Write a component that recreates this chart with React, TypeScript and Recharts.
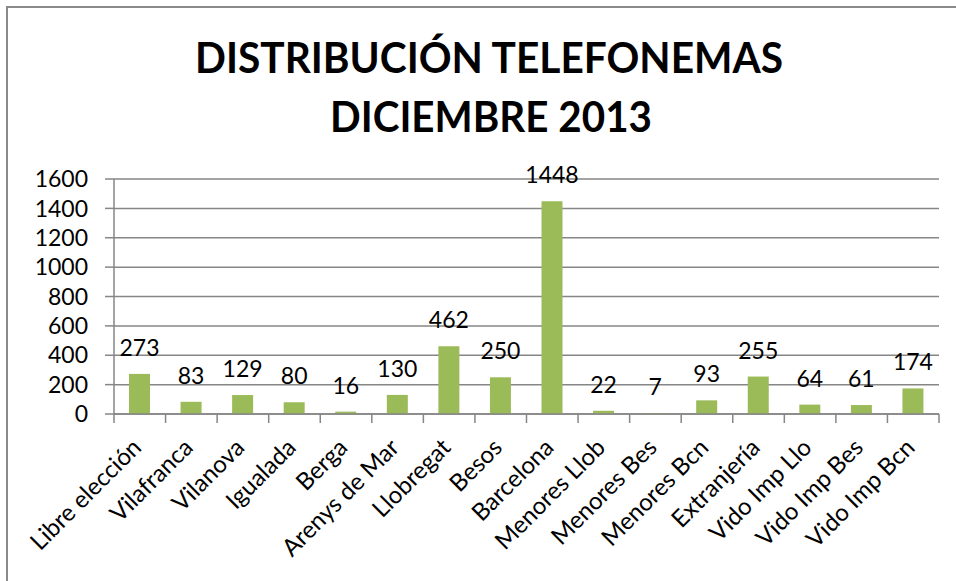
import { BarChart, Bar, XAxis, YAxis, CartesianGrid, LabelList } from 'recharts'

const CATEGORIES = [
  'Libre elección',
  'Vilafranca',
  'Vilanova',
  'Igualada',
  'Berga',
  'Arenys de Mar',
  'Llobregat',
  'Besos',
  'Barcelona',
  'Menores Llob',
  'Menores Bes',
  'Menores Bcn',
  'Extranjería',
  'Vido Imp Llo',
  'Vido Imp Bes',
  'Vido Imp Bcn',
]
const VALUES = [273, 83, 129, 80, 16, 130, 462, 250, 1448, 22, 7, 93, 255, 64, 61, 174]
const Y_TICKS = [0, 200, 400, 600, 800, 1000, 1200, 1400, 1600]
const TITLE_LINES = ['DISTRIBUCIÓN TELEFONEMAS', 'DICIEMBRE 2013']

const data = CATEGORIES.map((name, i) => ({ name, value: VALUES[i] }))

const WIDTH = 956
const HEIGHT = 581
const MARGIN = { top: 179, right: 17, bottom: 0, left: 0 }
const Y_AXIS_WIDTH = 114
const X_AXIS_HEIGHT = 167
const BAND = (WIDTH - MARGIN.right - Y_AXIS_WIDTH) / CATEGORIES.length
const AXIS = '#868686'
const GREEN = '#9BBB59'
const FONT = 'Lato, "Open Sans", sans-serif'

function CategoryTick(props: any) {
  const { x, y, payload, index } = props
  const half = BAND / 2
  return (
    <g>
      <line x1={x - half} x2={x - half} y1={y} y2={y + 9} stroke={AXIS} strokeWidth={1.5} />
      {index === CATEGORIES.length - 1 && (
        <line x1={x + half} x2={x + half} y1={y} y2={y + 9} stroke={AXIS} strokeWidth={1.5} />
      )}
      <text
        transform={`translate(${x + 3},${y + 35}) rotate(-45)`}
        textAnchor="end"
        fontSize={24}
        fill="#000"
      >
        {payload.value}
      </text>
    </g>
  )
}

export default function App() {
  return (
    <div
      style={{
        position: 'absolute',
        left: 0,
        top: 0,
        width: WIDTH,
        height: HEIGHT,
        background: '#fff',
        fontFamily: FONT,
      }}
    >
      <BarChart width={WIDTH} height={HEIGHT} data={data} margin={MARGIN}>
        <CartesianGrid vertical={false} stroke={AXIS} strokeWidth={1.5} />
        <YAxis
          width={Y_AXIS_WIDTH}
          domain={[0, 1600]}
          ticks={Y_TICKS}
          interval={0}
          tickSize={9}
          tickMargin={17}
          axisLine={{ stroke: AXIS, strokeWidth: 1.5 }}
          tickLine={{ stroke: AXIS, strokeWidth: 1.5 }}
          tick={{ fontSize: 23, fill: '#000' }}
        />
        <XAxis
          dataKey="name"
          height={X_AXIS_HEIGHT}
          interval={0}
          tickSize={0}
          tickMargin={0}
          tickLine={false}
          axisLine={{ stroke: AXIS, strokeWidth: 1.5 }}
          tick={<CategoryTick />}
        />
        <Bar dataKey="value" fill={GREEN} barSize={21} isAnimationActive={false}>
          <LabelList dataKey="value" position="top" offset={18} fontSize={23} fill="#000" />
        </Bar>
      </BarChart>
      <svg
        width={WIDTH}
        height={HEIGHT}
        style={{ position: 'absolute', left: 0, top: 0, pointerEvents: 'none' }}
      >
        <rect x={7} y={7} width={2000} height={2000} fill="none" stroke="#8a8a8a" strokeWidth={2} />
        <text
          x={489}
          y={73}
          textAnchor="middle"
          fontSize={42}
          fontWeight="bold"
          textLength={588}
          lengthAdjust="spacingAndGlyphs"
        >
          {TITLE_LINES[0]}
        </text>
        <text
          x={491}
          y={132}
          textAnchor="middle"
          fontSize={42}
          fontWeight="bold"
          textLength={322}
          lengthAdjust="spacingAndGlyphs"
        >
          {TITLE_LINES[1]}
        </text>
      </svg>
    </div>
  )
}
